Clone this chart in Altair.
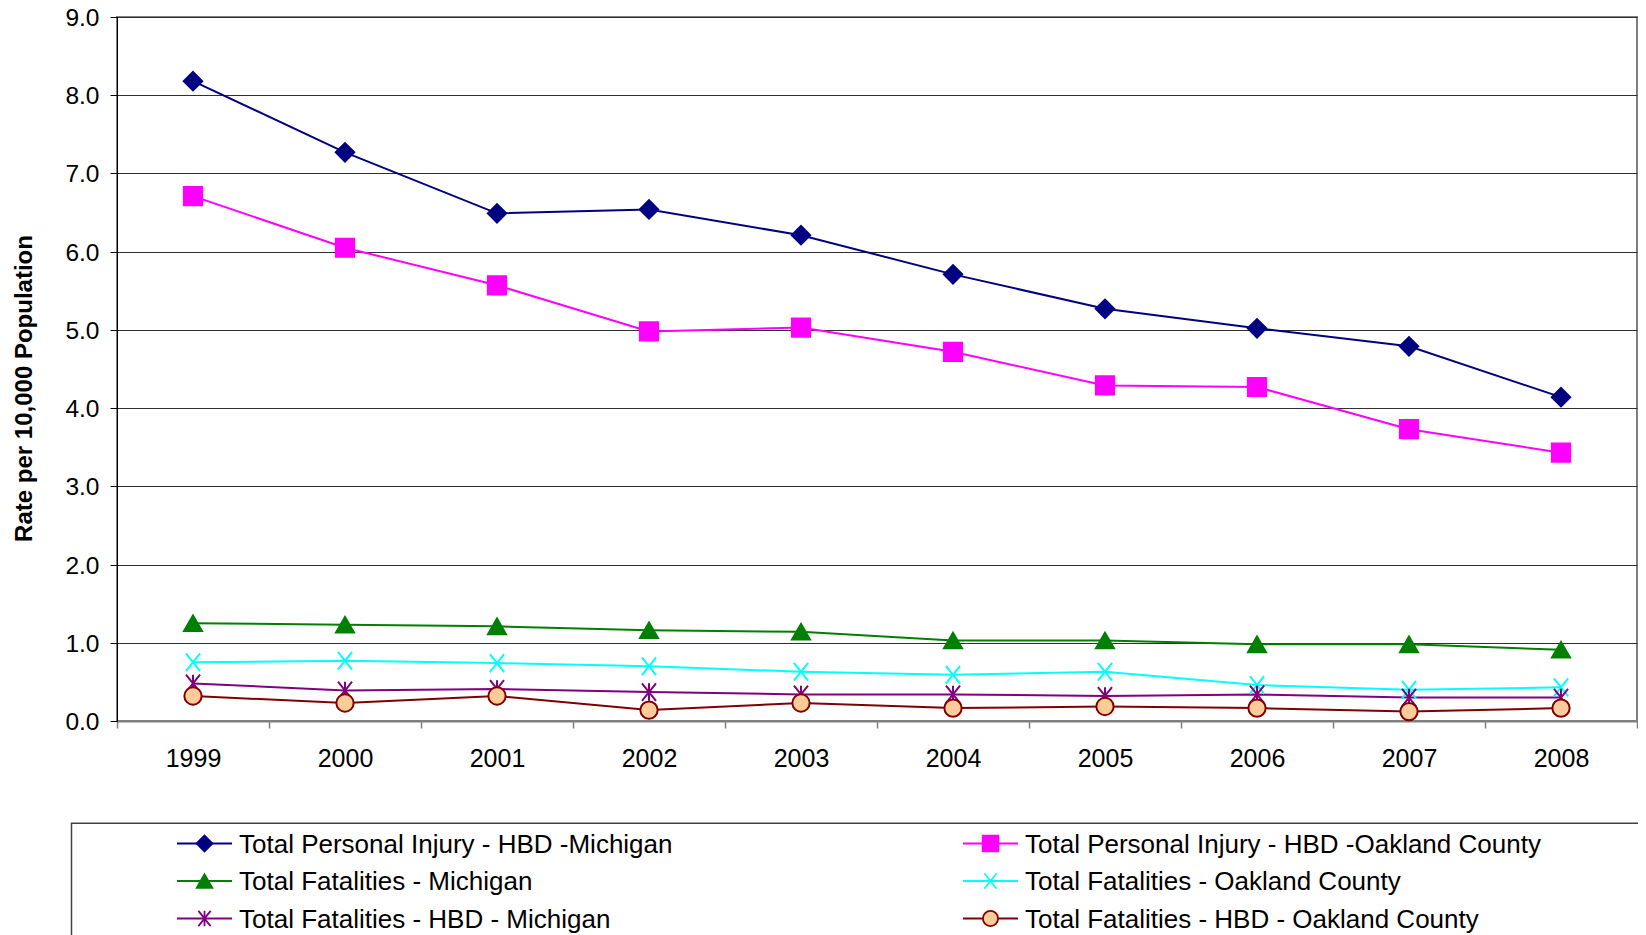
import altair as alt
import pandas as pd

# ---------------- data ----------------
years = ["1999", "2000", "2001", "2002", "2003", "2004", "2005", "2006", "2007", "2008"]

series_names = [
    "Total Personal Injury - HBD -Michigan",
    "Total Personal Injury - HBD -Oakland County",
    "Total Fatalities - Michigan",
    "Total Fatalities - Oakland County",
    "Total Fatalities - HBD - Michigan",
    "Total Fatalities - HBD - Oakland County",
]

pi_michigan = [8.18, 7.27, 6.49, 6.54, 6.21, 5.71, 5.27, 5.02, 4.79, 4.14]
pi_oakland = [6.71, 6.05, 5.57, 4.98, 5.03, 4.72, 4.29, 4.27, 3.73, 3.43]
fat_michigan = [1.25, 1.23, 1.21, 1.16, 1.14, 1.03, 1.03, 0.98, 0.98, 0.91]
fat_oakland = [0.75, 0.77, 0.74, 0.70, 0.63, 0.59, 0.63, 0.46, 0.40, 0.43]
fat_hbd_michigan = [0.48, 0.39, 0.41, 0.37, 0.34, 0.34, 0.32, 0.34, 0.30, 0.30]
fat_hbd_oakland = [0.32, 0.23, 0.32, 0.14, 0.23, 0.165, 0.185, 0.165, 0.12, 0.165]

all_values = [pi_michigan, pi_oakland, fat_michigan, fat_oakland, fat_hbd_michigan, fat_hbd_oakland]

rows = []
for name, vals in zip(series_names, all_values):
    for y, v in zip(years, vals):
        rows.append({"series": name, "year": y, "value": v})
df = pd.DataFrame(rows)

# ---------------- styles ----------------
FONT = "Liberation Sans"
line_colors = ["#000080", "#FF00FF", "#008000", "#00FFFF", "#800080", "#800000"]
fill_colors = ["#000080", "#FF00FF", "#008000", "#00FFFF", "#800080", "#FFCC99"]
X_PATH = "M-0.8,-1L0.8,1M-0.8,1L0.8,-1"
STAR_PATH = "M-0.8,-1L0.8,1M-0.8,1L0.8,-1M0,-1L0,1"
shapes = ["diamond", "square", "triangle-up", X_PATH, STAR_PATH, "circle"]
marker_sizes = [340, 300, 460, 500, 420, 330]
legend_marker_sizes = [250, 230, 330, 330, 310, 230]

W, H = 1520, 704

color_scale = alt.Scale(domain=series_names, range=line_colors)
fill_scale = alt.Scale(domain=series_names, range=fill_colors)
shape_scale = alt.Scale(domain=series_names, range=shapes)

x_enc = alt.X(
    "year:O",
    sort=years,
    scale=alt.Scale(type="band", paddingInner=0, paddingOuter=0),
    axis=alt.Axis(
        title=None, labelAngle=0, tickBand="extent", grid=False,
        domainColor="#808080", domainWidth=2, tickColor="#808080", tickWidth=1.5,
        tickSize=7, labelFont=FONT, labelFontSize=25, labelColor="black", labelPadding=18,
    ),
)
y_enc = alt.Y(
    "value:Q",
    scale=alt.Scale(domain=[0, 9], nice=False, zero=True),
    axis=alt.Axis(
        title="Rate per 10,000 Population", titleFont=FONT, titleFontSize=24,
        titleFontWeight="bold", titleColor="black", titlePadding=28, titleY=371,
        values=[0, 1, 2, 3, 4, 5, 6, 7, 8, 9], format=".1f",
        labelFont=FONT, labelFontSize=24.5, labelColor="black", labelPadding=11,
        labelOffset=1.5,
        tickSize=7, tickColor="black", domainColor="black", domainWidth=1,
        gridColor="#303030", gridWidth=1,
    ),
)

base = alt.Chart(df)
lines = base.mark_line(strokeWidth=2).encode(
    x=x_enc, y=y_enc,
    color=alt.Color("series:N", scale=color_scale, legend=None),
    detail="series:N",
)
points = base.mark_point(filled=True, strokeWidth=2, opacity=1).encode(
    x=x_enc, y=y_enc,
    shape=alt.Shape("series:N", scale=shape_scale, legend=None),
    fill=alt.Fill("series:N", scale=fill_scale, legend=None),
    stroke=alt.Stroke("series:N", scale=color_scale, legend=None),
    size=alt.Size("series:N", scale=alt.Scale(domain=series_names, range=marker_sizes), legend=None),
)
plot = alt.layer(lines, points)

# ---------------- legend (drawn as its own layer) ----------------
legend_col = [0, 1, 0, 1, 0, 1]
legend_row = [0, 0, 1, 1, 2, 2]
col_x0 = [60, 846]       # swatch start, relative to plot left
swatch_len = 55
text_gap = 7
row_y = [826.5, 864, 901.5]  # relative to plot top
box = {"x": -45.5, "x2": 1700, "y": 806.3, "y2": 1200}

leg = pd.DataFrame({
    "series": series_names,
    "x0": [col_x0[c] for c in legend_col],
    "x1": [col_x0[c] + swatch_len for c in legend_col],
    "xm": [col_x0[c] + swatch_len / 2 for c in legend_col],
    "xt": [col_x0[c] + swatch_len + text_gap for c in legend_col],
    "y": [row_y[r] for r in legend_row],
})
box_df = pd.DataFrame([box])

lx = alt.Scale(domain=[0, W], range=[0, W], nice=False, zero=False)
ly = alt.Scale(domain=[0, H], range=[0, H], nice=False, zero=False)

legend_box = alt.Chart(box_df).mark_rect(filled=False, stroke="#404040", strokeWidth=1.5).encode(
    x=alt.X("x:Q", scale=lx, axis=None), x2="x2:Q",
    y=alt.Y("y:Q", scale=ly, axis=None), y2="y2:Q",
)
legend_rules = alt.Chart(leg).mark_rule(strokeWidth=2).encode(
    x=alt.X("x0:Q", scale=lx, axis=None), x2="x1:Q",
    y=alt.Y("y:Q", scale=ly, axis=None),
    color=alt.Color("series:N", scale=color_scale, legend=None),
)
legend_pts = alt.Chart(leg).mark_point(filled=True, strokeWidth=1.8, opacity=1).encode(
    x=alt.X("xm:Q", scale=lx, axis=None),
    y=alt.Y("y:Q", scale=ly, axis=None),
    shape=alt.Shape("series:N", scale=shape_scale, legend=None),
    fill=alt.Fill("series:N", scale=fill_scale, legend=None),
    stroke=alt.Stroke("series:N", scale=color_scale, legend=None),
    size=alt.Size("series:N", scale=alt.Scale(domain=series_names, range=legend_marker_sizes), legend=None),
)
legend_text = alt.Chart(leg).mark_text(
    align="left", baseline="middle", font=FONT, fontSize=26, color="black", dy=1
).encode(
    x=alt.X("xt:Q", scale=lx, axis=None),
    y=alt.Y("y:Q", scale=ly, axis=None),
    text="series:N",
)
legend_layer = alt.layer(legend_box, legend_rules, legend_pts, legend_text)

chart = (
    alt.layer(plot, legend_layer)
    .resolve_scale(x="independent", y="independent", size="independent")
    .properties(
        width=W, height=H,
        autosize=alt.AutoSizeParams(type="none"),
        padding={"left": 109, "top": 9, "right": 1, "bottom": 214},
        background="white",
    )
    .configure_view(stroke="#808080", strokeWidth=2)
)

chart.save("out.html", embed_options={"renderer": "svg", "actions": False})
